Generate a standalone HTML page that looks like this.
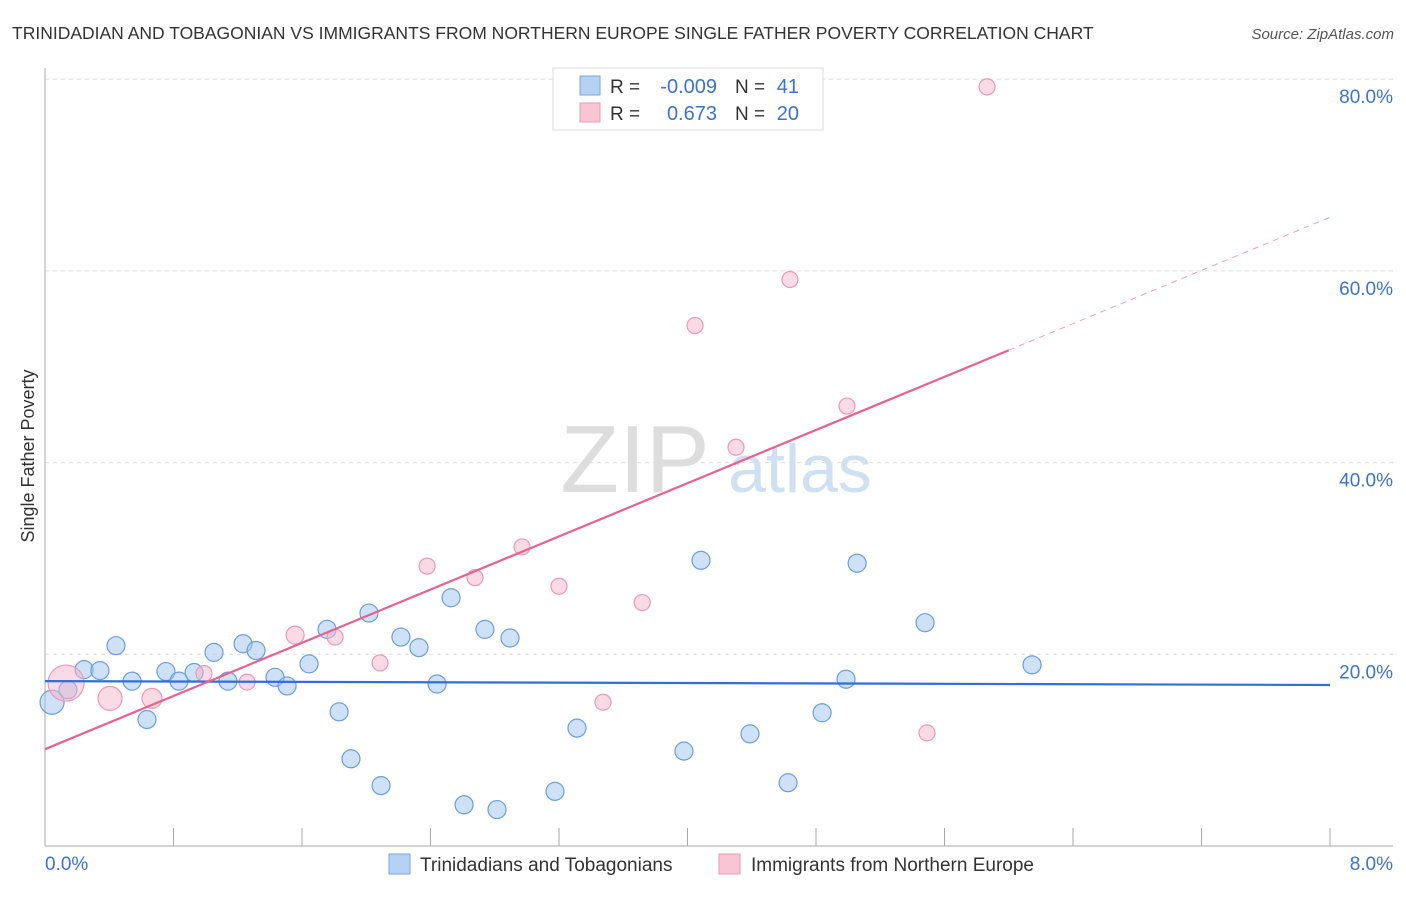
<!DOCTYPE html>
<html><head><meta charset="utf-8">
<style>
body{margin:0;background:#fff;font-family:"Liberation Sans",sans-serif;}
svg text{font-family:"Liberation Sans",sans-serif;}
</style></head>
<body>
<svg id="c" width="1406" height="892">
<text x="12" y="39" font-size="17.5" fill="#333">TRINIDADIAN AND TOBAGONIAN VS IMMIGRANTS FROM NORTHERN EUROPE SINGLE FATHER POVERTY CORRELATION CHART</text>
<text x="1394" y="39" font-size="15" fill="#555" font-style="italic" text-anchor="end">Source: ZipAtlas.com</text>
<text x="635" y="492" font-size="96" fill="#ddd" font-family="Liberation Serif" text-anchor="middle">ZIP</text>
<text x="800" y="492" font-size="68" fill="#cfe0f3" text-anchor="middle">atlas</text>
<text x="34" y="456" font-size="18" fill="#333" text-anchor="middle" transform="rotate(-90 34 456)">Single Father Poverty</text>
<g id="grid"></g>
<g id="marks"></g>
<g>
<rect x="553" y="68" width="270" height="62" fill="#fff" stroke="#ddd"/>
<rect x="580" y="76" width="20" height="19" fill="#b6d1f2" stroke="#7aa6e0"/>
<rect x="580" y="103" width="20" height="19" fill="#f7c5d4" stroke="#eb9ab3"/>
<text x="610" y="93" font-size="19" fill="#333">R = </text><text x="717" y="93" font-size="20" fill="#3b73d4" text-anchor="end">-0.009</text>
<text x="735" y="93" font-size="19" fill="#333">N = </text><text x="799" y="93" font-size="20" fill="#3b73d4" text-anchor="end">41</text>
<text x="610" y="120" font-size="19" fill="#333">R = </text><text x="717" y="120" font-size="20" fill="#3b73d4" text-anchor="end">0.673</text>
<text x="735" y="120" font-size="19" fill="#333">N = </text><text x="799" y="120" font-size="20" fill="#3b73d4" text-anchor="end">20</text>
</g>
<g>
<rect x="389" y="854" width="21" height="20" fill="#b6d1f2" stroke="#7aa6e0"/>
<text x="420" y="871" font-size="19" fill="#333">Trinidadians and Tobagonians</text>
<rect x="719" y="854" width="21" height="20" fill="#f7c5d4" stroke="#eb9ab3"/>
<text x="751" y="871" font-size="19" fill="#333">Immigrants from Northern Europe</text>
</g>
</svg>
<script>
const xTicks=[0,8];
const yTicks=[20,40,60,80];
const blueX=[0.044,0.143,0.243,0.342,0.442,0.542,0.635,0.753,0.834,0.928,1.052,1.139,1.233,1.314,1.432,1.507,1.644,1.756,1.831,1.905,2.017,2.092,2.216,2.328,2.441,2.528,2.609,2.739,2.814,2.895,3.175,3.312,3.978,4.084,4.389,4.626,4.838,4.987,5.056,5.479,6.145];
const blueY=[15.0,16.3,18.4,18.3,20.9,17.2,13.2,18.2,17.2,18.1,20.2,17.2,21.1,20.4,17.6,16.7,19.0,22.6,14.0,9.1,24.3,6.3,21.8,20.7,16.9,25.9,4.3,22.6,3.8,21.7,5.7,12.3,9.9,29.8,11.7,6.6,13.9,17.4,29.5,23.3,18.9];
const blueR=[12,9,9,9,9,9,9,9,9,9,9,9,9,9,9,9,9,9,9,9,9,9,9,9,9,9,9,9,9,9,9,9,9,9,9,9,9,9,9,9,9];
const pinkX=[0.131,0.405,0.666,0.990,1.258,1.557,1.806,2.086,2.379,2.677,2.970,3.200,3.474,3.718,4.047,4.302,4.638,4.993,5.491,5.865];
const pinkY=[17.0,15.4,15.4,18.0,17.1,22.0,21.8,19.1,29.2,28.0,31.2,27.1,15.0,25.4,54.3,41.6,59.1,45.9,11.8,79.2];
const pinkR=[18,12,10,8,8,9,8,8,8,8,8,8,8,8,8,8,8,8,8,8];
const blueTrend=[17.2,16.8];
const pinkTrend=[10.1,65.6];
const pinkSolidEnd=6.0;

const NS="http://www.w3.org/2000/svg";
const X=v=>45+v/8*1285;
const Y=v=>846-v/20*191.7;
function mk(tag,attrs,parent){const e=document.createElementNS(NS,tag);for(const k in attrs)e.setAttribute(k,attrs[k]);parent.appendChild(e);return e;}
const grid=document.getElementById('grid'),marks=document.getElementById('marks');
yTicks.forEach(t=>{
 const l=mk('line',{x1:45,x2:1393,y1:Y(t),y2:Y(t),stroke:'#ddd','stroke-dasharray':'4,4'},grid);
 
 
 const tx=mk('text',{x:1393,y:Y(t)+24,'font-size':19,fill:'#3b73d4','text-anchor':'end'},grid);
 tx.textContent=t.toFixed(1)+'%';
 
 
});
let ax=mk('line',{x1:45,x2:45,y1:68,y2:846,stroke:'#aaa'},grid);


ax=mk('line',{x1:45,x2:1393,y1:846,y2:846,stroke:'#aaa'},grid);


for(let i=1;i<=10;i++){const x=X(i*0.8);const t=mk('line',{x1:x,x2:x,y1:828,y2:846,stroke:'#aaa'},grid);
 
 }
xTicks.forEach((t,i)=>{const tx=mk('text',{x:i?1393:45,y:870,'font-size':19,fill:'#3b73d4','text-anchor':i?'end':'start'},grid);
 tx.textContent=t.toFixed(1)+'%';
 
 });
blueX.forEach((v,i)=>{const c=mk('circle',{cx:X(v),cy:Y(blueY[i]),r:blueR[i],fill:'rgba(160,196,240,0.5)',stroke:'#6a9ee0','stroke-width':1.2},marks);
 
 });
pinkX.forEach((v,i)=>{const c=mk('circle',{cx:X(v),cy:Y(pinkY[i]),r:pinkR[i],fill:'rgba(245,182,202,0.5)',stroke:'#eb9ab3','stroke-width':1.2},marks);
 
 });
let l=mk('line',{x1:X(0),x2:X(8),y1:Y(blueTrend[0]),y2:Y(blueTrend[1]),stroke:'#2f6fd6','stroke-width':2.2},marks);


const py=x=>pinkTrend[0]+(pinkTrend[1]-pinkTrend[0])*x/8;
l=mk('line',{x1:X(0),x2:X(pinkSolidEnd),y1:Y(py(0)),y2:Y(py(pinkSolidEnd)),stroke:'#e8628f','stroke-width':2.2},marks);


l=mk('line',{x1:X(pinkSolidEnd),x2:X(8),y1:Y(py(pinkSolidEnd)),y2:Y(py(8)),stroke:'#eea0b8','stroke-width':1,'stroke-dasharray':'6,5'},marks);


</script>
</body></html>
